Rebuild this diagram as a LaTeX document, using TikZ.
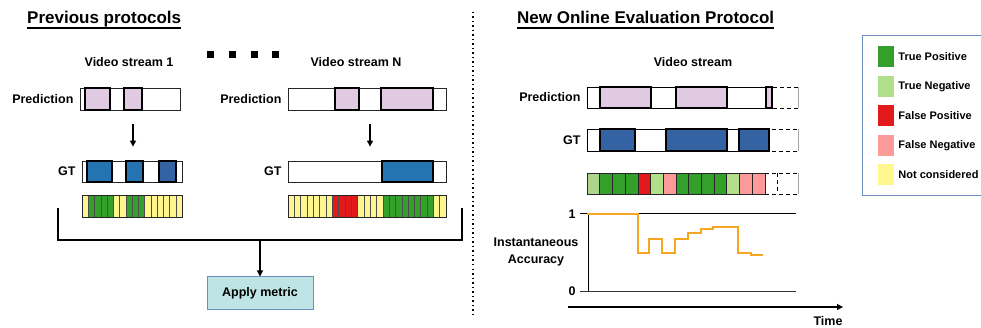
\documentclass[tikz,border=0pt]{standalone}
\usepackage{fontspec}
\setmainfont{Liberation Sans}
\usetikzlibrary{positioning, arrows.meta}
\definecolor{predLilac}{HTML}{E0CAE2}
\definecolor{gtBlue}{HTML}{2574B2}
\definecolor{gtBlueDark}{HTML}{3463A4}
\definecolor{tpGreen}{HTML}{33A02C}
\definecolor{tnGreen}{HTML}{B2DF8A}
\definecolor{tnGreenDim}{HTML}{AED48C}
\definecolor{fpRed}{HTML}{E31A1C}
\definecolor{fnPink}{HTML}{FB9A99}
\definecolor{ncYellow}{HTML}{FFF68F}
\definecolor{metricFill}{HTML}{BFE4E6}
\definecolor{frameBlue}{HTML}{6C8EBF}
\definecolor{accOrange}{HTML}{F5A623}
\tikzset{
  bar/.style    = {draw=black!85, line width=0.8pt, inner sep=0pt, minimum height=22pt},
  seg/.style    = {draw=black, line width=2pt},
  cell/.style   = {draw=black!70, line width=0.5pt},
  lbl/.style    = {font=\fontsize{12.5}{17}\selectfont\bfseries, inner sep=0pt},
  ttl/.style    = {font=\fontsize{17}{20}\selectfont\bfseries, inner sep=0pt, anchor=base west},
  uline/.style  = {line width=1.5pt},
  leg/.style    = {font=\fontsize{11}{12}\selectfont\bfseries, inner sep=0pt},
  legsq/.style  = {inner sep=0pt, minimum width=16pt, minimum height=21pt},
  fl/.style     = {-{Triangle[length=6pt,width=6pt]}, line width=1.1pt},
  brk/.style    = {line width=1.3pt},
  dashpart/.style = {line width=0.8pt, dash pattern=on 4pt off 3pt},
  divider/.style  = {line width=1.5pt, dash pattern=on 1.5pt off 3pt},
  axis/.style   = {line width=1pt},
  accline/.style= {draw=accOrange, line width=2pt}
}
\begin{document}
\begin{tikzpicture}[x=1pt, y=-1pt]
  \useasboundingbox (0,0) rectangle (981,328);

  % titles
  \node[ttl] (ttlPrev) at (27,24) {Previous protocols};
  \draw[uline] ([yshift=-4pt]ttlPrev.base west) -- ([yshift=-4pt]ttlPrev.base east);
  \node[ttl] (ttlNew) at (517,24) {New Online Evaluation Protocol};
  \draw[uline] ([yshift=-4pt]ttlNew.base west) -- ([yshift=-4pt]ttlNew.base east);

  % divider
  \coordinate (divTop) at (473,12);
  \coordinate (divBot) at (473,316);
  \draw[divider] (divTop) -- (divBot);

  % ---- previous protocols ----
  \node[lbl] (vs1) at (129,62) {Video stream 1};
  \node[lbl] (vsN) at (356,62) {Video stream N};
  \foreach \x in {210,232,254,275}
    \fill (\x-3.5,51.5) rectangle ++(7,7);

  % stream 1
  \node[bar, minimum width=100pt] (pred1) at (130,99) {};
  \draw[seg, fill=predLilac] (85,88) rectangle (110,110);
  \draw[seg, fill=predLilac] (124,88) rectangle (142,110);
  \node[lbl, left=6pt of pred1] (predLbl1) {Prediction};

  \node[bar, minimum width=100pt, minimum height=21pt] (gt1) at (132,171.5) {};
  \draw[seg, fill=gtBlue] (87,161) rectangle (112,182);
  \draw[seg, fill=gtBlue] (126,161) rectangle (143,182);
  \draw[seg, fill=gtBlueDark] (159,161) rectangle (176,182);
  \node[lbl, left=6pt of gt1] (gtLbl1) {GT};
  \draw[fl, shorten <=14pt, shorten >=14pt] (pred1.south -| 133,0) -- (gt1.north -| 133,0);

  \foreach \c [count=\i from 0] in {ncYellow,tpGreen,tpGreen,tpGreen,tpGreen,ncYellow,ncYellow,tpGreen,
      tpGreen,tpGreen,ncYellow,ncYellow,ncYellow,ncYellow,ncYellow,ncYellow}
    \draw[cell, fill=\c] (82+\i*6.25,195) rectangle ++(6.25,22);
  \node[bar, minimum width=100pt] (fb1) at (132,206) {};

  % stream N
  \node[bar, minimum width=158pt] (predN) at (367,99) {};
  \draw[seg, fill=predLilac] (335,88) rectangle (359,110);
  \draw[seg, fill=predLilac] (381,88) rectangle (433,110);
  \node[lbl, left=6pt of predN] (predLblN) {Prediction};

  \node[bar, minimum width=158pt, minimum height=21pt] (gtN) at (367,171.5) {};
  \draw[seg, fill=gtBlue] (382,161) rectangle (433,182);
  \node[lbl, left=6pt of gtN] (gtLblN) {GT};
  \draw[fl, shorten <=14pt, shorten >=14pt] (predN.south -| 370,0) -- (gtN.north -| 370,0);

  \foreach \c [count=\i from 0] in {ncYellow,ncYellow,ncYellow,ncYellow,ncYellow,ncYellow,ncYellow,
      fpRed,fpRed,fpRed,fpRed,ncYellow,ncYellow,ncYellow,ncYellow,
      tpGreen,tpGreen,tpGreen,tpGreen,tpGreen,tpGreen,tpGreen,tpGreen,ncYellow,ncYellow}
    \draw[cell, fill=\c] (288+\i*6.32,195) rectangle ++(6.32,22);
  \node[bar, minimum width=158pt] (fbN) at (367,206) {};

  % gather and apply metric
  \coordinate (brkL) at (58,208);
  \coordinate (brkR) at (462,208);
  \coordinate (brkM) at (260,240);
  \draw[brk] (brkL) |- (brkM) -| (brkR);
  \node[draw=frameBlue, line width=1pt, fill=metricFill, minimum width=106pt, minimum height=32pt,
        lbl] (metric) at (260,293) {Apply metric};
  \draw[fl] (brkM) -- (metric.north);

  % ---- online protocol ----
  \node[lbl] (vsR) at (693,62) {Video stream};

  \node[bar, draw=none, minimum width=211pt, minimum height=21pt] (predR) at (692.5,97.5) {};
  \draw[line width=0.8pt] (773,87) -| (587,108) -- (773,108);
  \draw[dashpart] (773,87) -- (798,87) (773,108) -- (798,108);
  \draw[black!35, line width=0.8pt] (798,87) -- (798,108);
  \draw[seg, fill=predLilac] (600,87) rectangle (651,108);
  \draw[seg, fill=predLilac] (676,87) rectangle (727,108);
  \draw[seg, fill=predLilac] (766,87) rectangle (772,108);
  \node[lbl, left=6pt of predR] (predLblR) {Prediction};

  \node[bar, draw=none, minimum width=211pt, minimum height=22pt] (gtR) at (692.5,140) {};
  \draw[line width=0.8pt] (765,129) -| (587,151) -- (765,151);
  \draw[dashpart] (765,129) -- (798,129) (765,151) -- (798,151);
  \draw[black!35, line width=0.8pt] (798,129) -- (798,151);
  \draw[seg, fill=gtBlueDark] (600,129) rectangle (635,151);
  \draw[seg, fill=gtBlueDark] (666,129) rectangle (727,151);
  \draw[seg, fill=gtBlueDark] (739,129) rectangle (769,151);
  \node[lbl, left=6pt of gtR] (gtLblR) {GT};

  \foreach \c [count=\i from 0] in {tnGreenDim,tpGreen,tpGreen,tpGreen,fpRed,tnGreen,fnPink,
      tpGreen,tpGreen,tpGreen,tpGreen,tnGreen,fnPink,fnPink}
    \draw[cell, draw=black!85, fill=\c] (587+\i*12.7,173) rectangle ++(12.7,21);
  \node[bar, draw=none, minimum width=211pt, minimum height=21pt] (fbR) at (692.5,183.5) {};
  \draw[dashpart] (765,173) -- (798,173) (765,194) -- (798,194) (777,173) -- (777,194);
  \draw[black!35, line width=0.8pt] (798,173) -- (798,194);

  % accuracy plot
  \node[lbl] (one) at (572,214) {1};
  \node[lbl] (zero) at (572,291) {0};
  \coordinate (yTop) at (588,214);
  \coordinate (yBot) at (588,291);
  \draw[axis] (580,214) -- (796,214);
  \draw[axis, black!80] (580,291) -- (796,291);
  \draw[axis] (yTop) -- (yBot);
  \node[lbl, align=center] (accLbl) at (536,252) {Instantaneous\\Accuracy};
  \draw[accline] (587,214) -| (638,253) -| (649,239) -| (662,253) -| (675,239) -| (688,233)
      -| (701,229) -| (713,227) -| (738,253) -| (751,255) -- (763,255);

  \coordinate (tStart) at (568,307);
  \coordinate (tEnd) at (843,307);
  \draw[fl] (tStart) -- (tEnd);
  \node[lbl] (timeLbl) at (828,321) {Time};

  % legend
  \draw[draw=frameBlue, line width=1pt] (982,36) -- (862,36) -- (862,196) -- (982,196);
  \foreach \c/\t [count=\i from 0] in {tpGreen/True Positive, tnGreen/True Negative,
      fpRed/False Positive, fnPink/False Negative, ncYellow/Not considered} {
    \node[legsq, fill=\c] (sq\i) at (886,57+\i*29.5) {};
    \node[leg, right=4pt of sq\i] (legLbl\i) {\t};
  }
\end{tikzpicture}
\end{document}
